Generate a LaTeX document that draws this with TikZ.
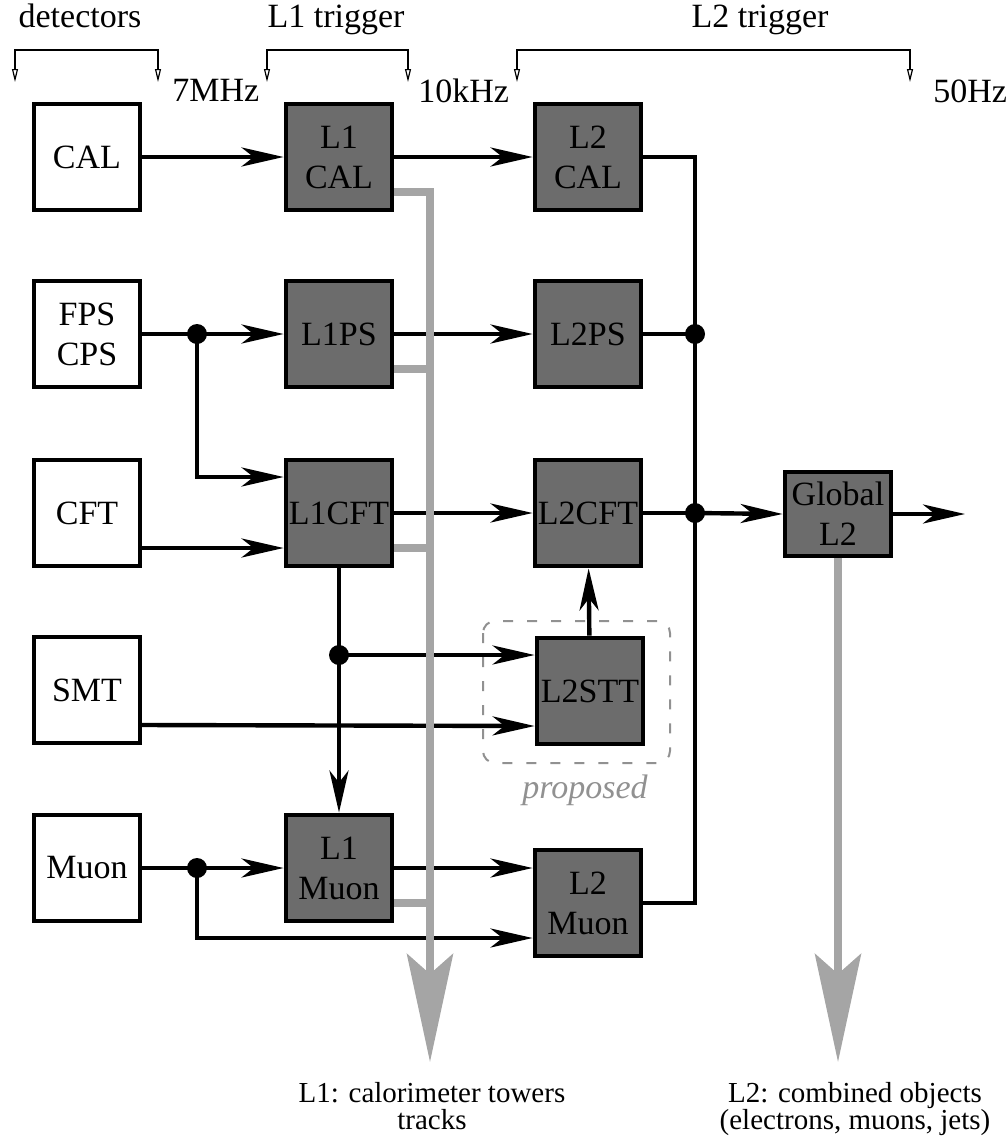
\documentclass[tikz,border=0pt]{standalone}
\usepackage{fontspec}
\setmainfont{Liberation Serif}
\usetikzlibrary{arrows.meta,calc}
\definecolor{boxgray}{RGB}{108,108,108}
\definecolor{busgray}{RGB}{165,165,165}
\definecolor{propgray}{RGB}{145,145,145}
\tikzset{trigsec/.style={x=0.5pt,y=-0.5pt,font=\fontsize{17}{20}\selectfont},
  detbox/.style={draw,line width=1.6pt,fill=white,minimum width=53pt,minimum height=53pt,inner sep=0pt,align=center},
  trigbox/.style={draw,line width=2.4pt,fill=boxgray,minimum width=53pt,minimum height=53pt,inner sep=0pt,align=center},
  wire/.style={line width=2.2pt},
  feed/.style={wire,-{Stealth[length=21pt,width=9.5pt,inset=6pt]}},
  bus/.style={busgray,line width=4pt},
  bushead/.style={-{Stealth[length=54pt,width=23pt,inset=10pt]}},
  tick/.style={line width=0.6pt,{Triangle[open,length=6.5pt,width=3pt]}-{Triangle[open,length=6.5pt,width=3pt]}},
  outtext/.style={font=\fontsize{14.5}{13.5}\selectfont,align=center,anchor=north,inner sep=0pt}}

\begin{document}
\begin{tikzpicture}[trigsec]
    \useasboundingbox (0,0) rectangle (1006,1141);
    % rates and stages
    \foreach \a/\b in {15/158,267/408,517/910} \draw[tick] (\a,82) -- (\a,50) -- (\b,50) -- (\b,82);
    \node[anchor=base] (tdet) at (80,27) {detectors};
    \node[anchor=base] (tlone) at (336,27) {L1 trigger};
    \node[anchor=base] (tltwo) at (760,27) {L2 trigger};
    \node[anchor=base west,inner sep=0pt] (rseven) at (172,101) {7MHz};
    \node[anchor=base west,inner sep=0pt] (rten) at (418,102) {10kHz};
    \node[anchor=base west,inner sep=0pt] (rfifty) at (933,102) {50Hz};
    % detectors
    \node[detbox] (cal) at (87,157) {CAL};
    \node[detbox] (fps) at (87,334) {FPS\\CPS};
    \node[detbox] (cft) at (87,513) {CFT};
    \node[detbox] (smt) at (87,690) {SMT};
    \node[detbox] (muon) at (87,868) {Muon};
    % level 1
    \node[trigbox] (lcal) at (339,157) {L1\\CAL};
    \node[trigbox] (lps) at (339,334) {L1PS};
    \node[trigbox] (lcft) at (339,513) {L1CFT};
    \node[trigbox] (lmuon) at (339,868) {L1\\Muon};
    % level 2
    \node[trigbox] (mcal) at (588,157) {L2\\CAL};
    \node[trigbox] (mps) at (588,334) {L2PS};
    \node[trigbox] (mcft) at (588,513) {L2CFT};
    \node[trigbox] (mstt) at (590,691) {L2STT};
    \node[trigbox] (mmuon) at (588,903) {L2\\Muon};
    \node[trigbox,minimum height=42pt] (glob) at (838,514) {Global\\L2};
    \draw[propgray,line width=1pt,dash pattern=on 5pt off 7pt,rounded corners=6pt] (483,621) rectangle (670,763);
    \node[propgray,font=\fontsize{17}{20}\selectfont\itshape] (prop) at (585,790) {proposed};
    % junctions
    \coordinate (jfps) at (197,334);
    \coordinate (jstt) at (339,655);
    \coordinate (jmuon) at (197,868);
    \coordinate (jps) at (695,334);
    \coordinate (jcft) at (695,513);
    \coordinate (out) at (965,514);
    \coordinate (busend) at (430,1062);
    \coordinate (globend) at (838,1062);
    % black data paths
    \draw[feed] (cal) -- (lcal);
    \draw[feed] (lcal) -- (mcal);
    \draw[feed] (fps.east) -- (lps.west);
    \draw[feed] (jfps) |- ($(lcft.west)+(0,-36)$);
    \draw[feed] ($(cft.east)+(0,35)$) -- ($(lcft.west)+(0,35)$);
    \draw[feed] (lps) -- (mps);
    \draw[feed] (lcft) -- (mcft);
    \draw[feed] (lcft.south) -- (lmuon.north);
    \draw[feed] (jstt) -- ($(mstt.west)+(0,-36)$);
    \draw[feed] ($(smt.east)+(0,35)$) -- ($(mstt.west)+(0,35)$);
    \draw[feed] (mstt) -- (mcft);
    \draw[feed] (muon.east) -- (lmuon.west);
    \draw[feed] (jmuon) |- ($(mmuon.west)+(0,35)$);
    \draw[feed] (lmuon.east) -- ($(mmuon.west)+(0,-35)$);
    \draw[wire] (mcal.east) -| (jcft) |- (mmuon.east);
    \draw[wire] (mps.east) -- (jps);
    \draw[wire] (mcft.east) -- (jcft);
    \draw[feed] (jcft) -- (glob.west);
    \draw[feed] (glob.east) -- (out);
    \foreach \j in {jfps,jstt,jmuon,jps,jcft} \fill (\j) circle (5pt);
    % grey readout
    \draw[bus,bushead] ($(lcal.east)+(0,35)$) -| (busend);
    \foreach \n in {lps,lcft,lmuon} \draw[bus] ($(\n.east)+(0,35)$) -- ++(37,0);
    \draw[bus,bushead] (glob.south) -- (globend);
    \node[outtext] (lonetext) at (432,1082) {L1: calorimeter towers\\tracks};
    \node[outtext] (ltwotext) at (855,1082) {L2: combined objects\\(electrons, muons, jets)};
\end{tikzpicture}
\end{document}
